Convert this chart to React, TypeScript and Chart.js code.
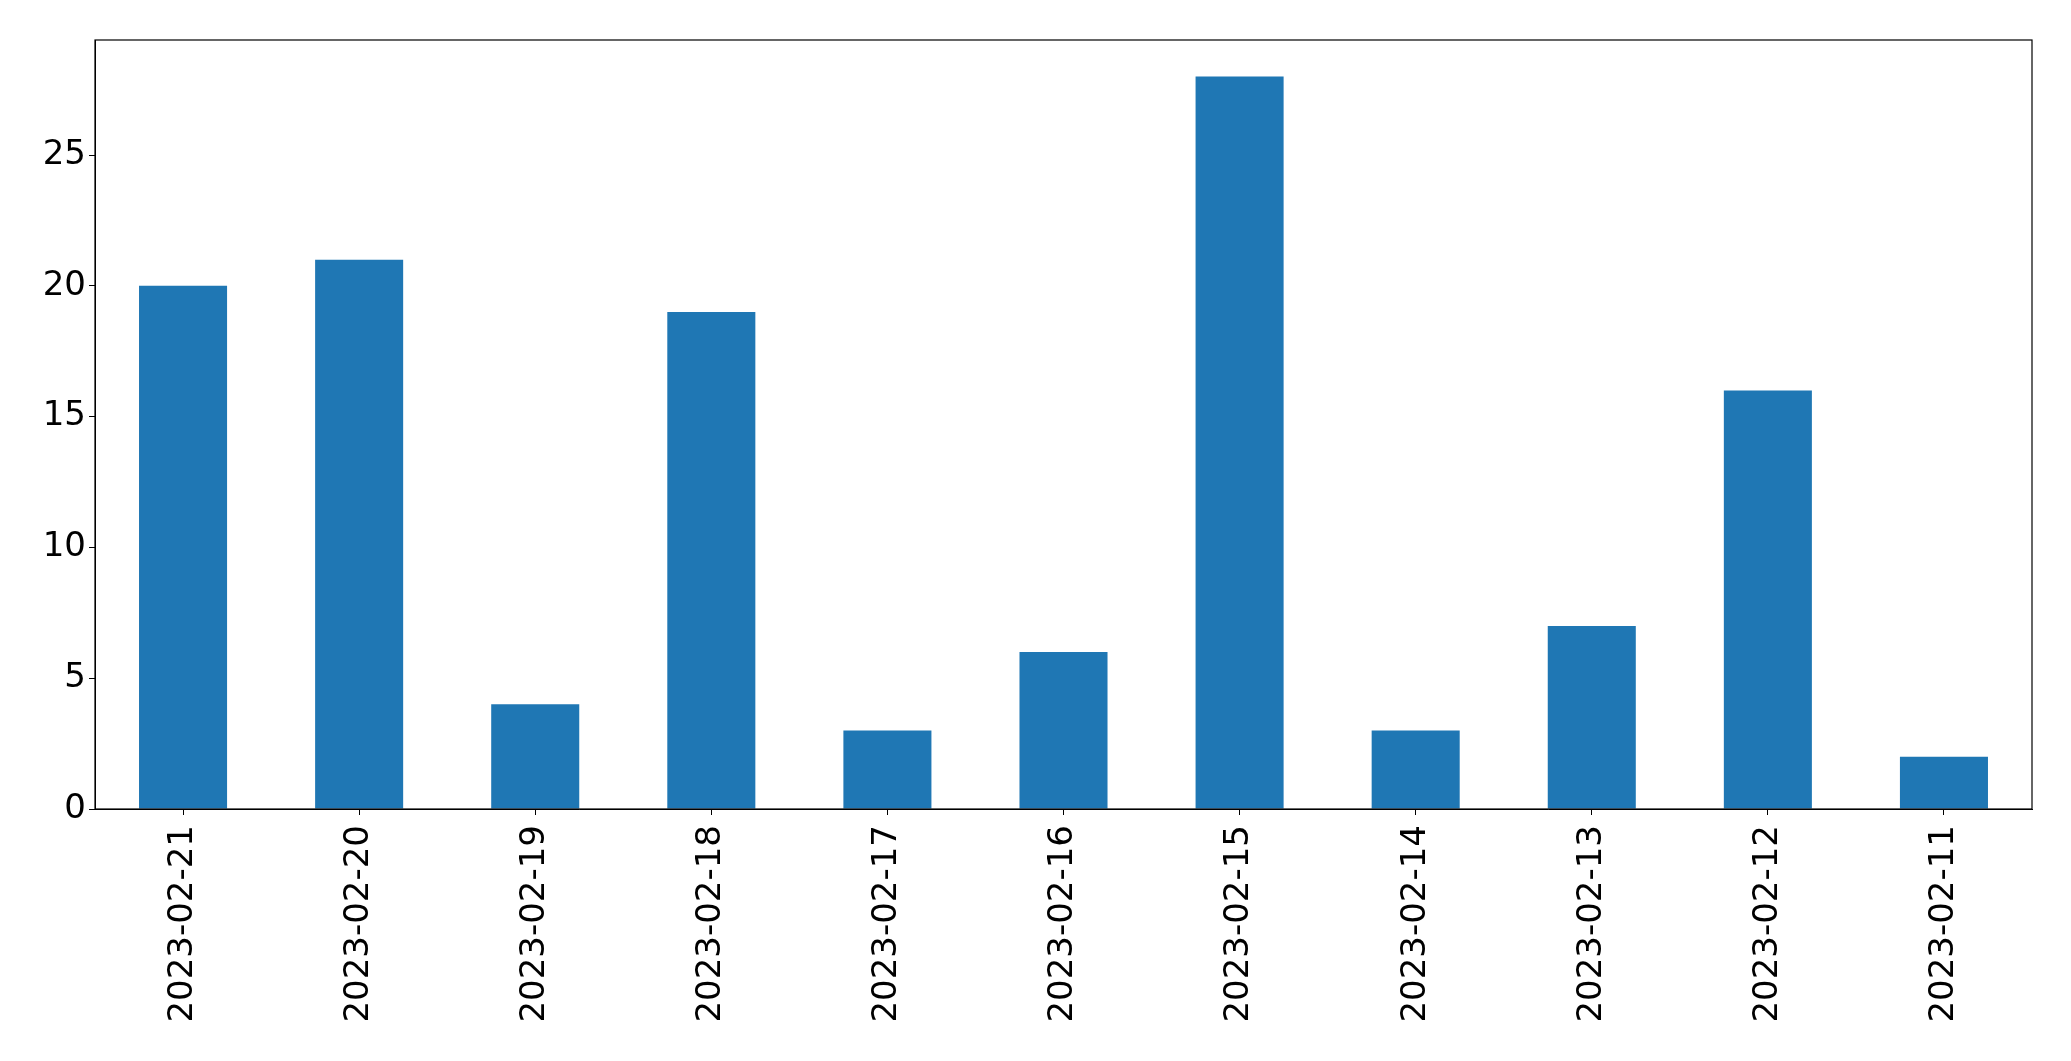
import React, { useEffect, useRef } from "react";
import { Chart, registerables } from "chart.js";

Chart.register(...registerables);

const categories = [
  "2023-02-21", "2023-02-20", "2023-02-19", "2023-02-18", "2023-02-17", "2023-02-16",
  "2023-02-15", "2023-02-14", "2023-02-13", "2023-02-12", "2023-02-11",
];
const counts = [20, 21, 4, 19, 3, 6, 28, 3, 7, 16, 2];
const yTickValues = [0, 5, 10, 15, 20, 25];
const yMax = 29.4;

const frame = {
  id: "frame",
  afterDraw(chart: any) {
    const { ctx, chartArea } = chart;
    ctx.save();
    ctx.strokeStyle = "#000";
    ctx.lineWidth = 1.2;
    ctx.strokeRect(chartArea.left, chartArea.top, chartArea.right - chartArea.left, chartArea.bottom - chartArea.top);
    ctx.restore();
  },
};

export default function App() {
  const ref = useRef<HTMLCanvasElement | null>(null);
  useEffect(() => {
    if (!ref.current) return;
    const font = { family: "'DejaVu Sans', sans-serif", size: 34 };
    const chart = new Chart(ref.current, {
      type: "bar",
      data: {
        labels: categories,
        datasets: [
          {
            data: counts,
            backgroundColor: "#1f77b4",
            borderWidth: 0,
            barPercentage: 0.5,
            categoryPercentage: 1,
          },
        ],
      },
      options: {
        animation: false,
        responsive: false,
        maintainAspectRatio: false,
        layout: { padding: { left: 0, top: 40, right: 39, bottom: 0 } },
        plugins: { legend: { display: false }, tooltip: { enabled: false } },
        scales: {
          x: {
            offset: true,
            grid: { display: true, drawOnChartArea: false, drawTicks: true, tickLength: 6, color: "#000", offset: false },
            border: { display: true, color: "#000" },
            ticks: { color: "#000", font, minRotation: 90, maxRotation: 90, padding: 10, autoSkip: false },
            afterFit(scale: any) {
              scale.height = 1061 - 809;
            },
          },
          y: {
            min: 0,
            max: yMax,
            grid: { display: true, drawOnChartArea: false, drawTicks: true, tickLength: 6, color: "#000" },
            border: { display: true, color: "#000" },
            ticks: { color: "#000", font, padding: 3 },
            afterBuildTicks(scale: any) {
              scale.ticks = yTickValues.map((v) => ({ value: v }));
            },
            afterFit(scale: any) {
              scale.width = 95;
            },
          },
        },
      },
      plugins: [frame],
    });
    return () => chart.destroy();
  }, []);
  return (
    <div style={{ position: "fixed", left: 0, top: 0, width: 2071, height: 1061, background: "#fff" }}>
      <canvas ref={ref} width={2071} height={1061} style={{ display: "block" }} />
    </div>
  );
}
